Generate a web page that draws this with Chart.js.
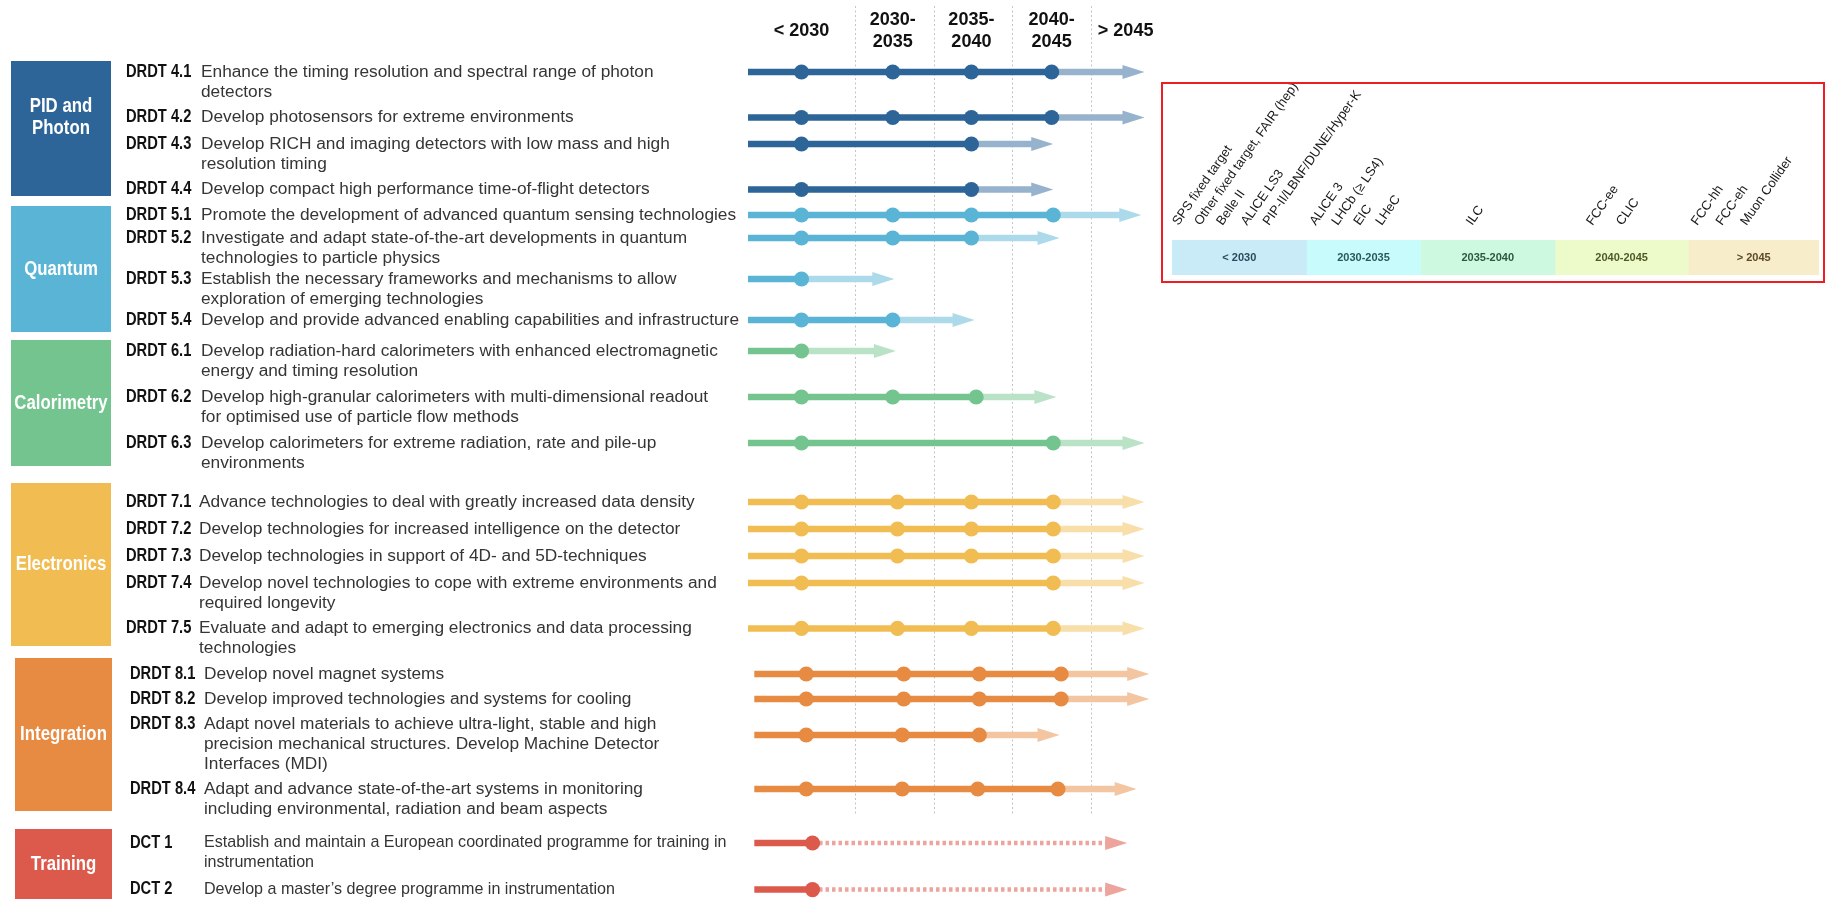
<!DOCTYPE html>
<html>
<head>
<meta charset="utf-8">
<title>DRDT roadmap</title>
<script src="https://cdn.jsdelivr.net/npm/chart.js@4.4.1/dist/chart.umd.min.js"></script>
<style>
  html, body { margin:0; padding:0; background:#ffffff; }
  body { width:1825px; height:899px; position:relative; overflow:hidden; }
  #mainWrap { position:absolute; left:0; top:0; width:1825px; height:899px; }
  #legendFrame { position:absolute; left:1161px; top:82px; width:660px; height:197px; border:2px solid #ee1d23; }
  #legendWrap { position:absolute; left:1163px; top:84px; width:660px; height:197px; }
</style>
</head>
<body>
<div id="mainWrap"><canvas id="main" width="1825" height="899" style="width:1825px;height:899px"></canvas></div>
<div id="legendFrame"></div>
<div id="legendWrap"><canvas id="legend" width="660" height="197" style="width:660px;height:197px"></canvas></div>
<script>
// ---------------- DATA ----------------
const groupNames  = ['PID and\nPhoton', 'Quantum', 'Calorimetry', 'Electronics', 'Integration', 'Training'];
const groupColors = ['#2e6598', '#5ab4d5', '#73c48e', '#f1bc52', '#e78a42', '#dc5a4b'];

const itemGroup = [0,0,0,0, 1,1,1,1, 2,2,2, 3,3,3,3,3, 4,4,4,4, 5,5];
const itemCodes = ['DRDT 4.1','DRDT 4.2','DRDT 4.3','DRDT 4.4',
                   'DRDT 5.1','DRDT 5.2','DRDT 5.3','DRDT 5.4',
                   'DRDT 6.1','DRDT 6.2','DRDT 6.3',
                   'DRDT 7.1','DRDT 7.2','DRDT 7.3','DRDT 7.4','DRDT 7.5',
                   'DRDT 8.1','DRDT 8.2','DRDT 8.3','DRDT 8.4',
                   'DCT 1','DCT 2'];
const itemText = [
  ['Enhance the timing resolution and spectral range of photon', 'detectors'],
  ['Develop photosensors for extreme environments'],
  ['Develop RICH and imaging detectors with low mass and high', 'resolution timing'],
  ['Develop compact high performance time-of-flight detectors'],
  ['Promote the development of advanced quantum sensing technologies'],
  ['Investigate and adapt state-of-the-art developments in quantum', 'technologies to particle physics'],
  ['Establish the necessary frameworks and mechanisms to allow', 'exploration of emerging technologies'],
  ['Develop and provide advanced enabling capabilities and infrastructure'],
  ['Develop radiation-hard calorimeters with enhanced electromagnetic', 'energy and timing resolution'],
  ['Develop high-granular calorimeters with multi-dimensional readout', 'for optimised use of particle flow methods'],
  ['Develop calorimeters for extreme radiation, rate and pile-up', 'environments'],
  ['Advance technologies to deal with greatly increased data density'],
  ['Develop technologies for increased intelligence on the detector'],
  ['Develop technologies in support of 4D- and 5D-techniques'],
  ['Develop novel technologies to cope with extreme environments and', 'required longevity'],
  ['Evaluate and adapt to emerging electronics and data processing', 'technologies'],
  ['Develop novel magnet systems'],
  ['Develop improved technologies and systems for cooling'],
  ['Adapt novel materials to achieve ultra-light, stable and high', 'precision mechanical structures. Develop Machine Detector', 'Interfaces (MDI)'],
  ['Adapt and advance state-of-the-art systems in monitoring', 'including environmental, radiation and beam aspects'],
  ['Establish and maintain a European coordinated programme for training in', 'instrumentation'],
  ['Develop a master\u2019s degree programme in instrumentation']
];

// timeline values (years)
const startYear = [2023.2,2023.2,2023.2,2023.2, 2023.2,2023.2,2023.2,2023.2, 2023.2,2023.2,2023.2,
                   2023.2,2023.2,2023.2,2023.2,2023.2, 2023.6,2023.6,2023.6,2023.6, 2023.6,2023.6];
const milestoneYears = [
  [2026.6, 2032.4, 2037.4, 2042.5],
  [2026.6, 2032.4, 2037.4, 2042.5],
  [2026.6, 2037.4],
  [2026.6, 2037.4],
  [2026.6, 2032.4, 2037.4, 2042.6],
  [2026.6, 2032.4, 2037.4],
  [2026.6],
  [2026.6, 2032.4],
  [2026.6],
  [2026.6, 2032.4, 2037.7],
  [2026.6, 2042.6],
  [2026.6, 2032.7, 2037.4, 2042.6],
  [2026.6, 2032.7, 2037.4, 2042.6],
  [2026.6, 2032.7, 2037.4, 2042.6],
  [2026.6, 2042.6],
  [2026.6, 2032.7, 2037.4, 2042.6],
  [2026.9, 2033.1, 2037.9, 2043.1],
  [2026.9, 2033.1, 2037.9, 2043.1],
  [2026.9, 2033.0, 2037.9],
  [2026.9, 2033.0, 2037.8, 2042.9],
  [2027.3],
  [2027.3]
];
const arrowYear = [2048.4, 2048.4, 2042.6, 2042.6, 2048.2, 2043.0, 2032.5, 2037.6,
                   2032.6, 2042.8, 2048.4, 2048.4, 2048.4, 2048.4, 2048.4, 2048.4,
                   2048.7, 2048.7, 2043.0, 2047.9, 2047.3, 2047.3];
const dottedTail = [false,false,false,false,false,false,false,false,false,false,false,
                    false,false,false,false,false,false,false,false,false,true,true];

const gridYears = [2030, 2035, 2040, 2045];
const columnLabels = [['< 2030'], ['2030-', '2035'], ['2035-', '2040'], ['2040-', '2045'], ['> 2045']];
const columnCenterYears = [2026.6, 2032.4, 2037.4, 2042.5, 2047.2];

// legend (facility timeline)
const periods = ['< 2030', '2030-2035', '2035-2040', '2040-2045', '> 2045'];
const periodSpan = [[0, 1.04], [1.04, 1.92], [1.92, 2.96], [2.96, 3.99], [3.99, 5]];
const periodColors = ['#c9ebf7', '#c8fcfc', '#cdf9e0', '#edfbcb', '#f8edca'];
const periodTextColors = ['#2b4a5c', '#2b5858', '#2b5a40', '#4f5a26', '#5c4a26'];
const experiments = ['SPS fixed target', 'Other fixed target, FAIR (hep)', 'Belle II', 'ALICE LS3',
                     'PIP-II/LBNF/DUNE/Hyper-K', 'ALICE 3', 'LHCb (\u2265 LS4)', 'EIC', 'LHeC', 'ILC',
                     'FCC-ee', 'CLIC', 'FCC-hh', 'FCC-eh', 'Muon Collider'];
const experimentPos = [0.05, 0.22, 0.39, 0.58, 0.75, 1.11, 1.28, 1.45, 1.62, 2.32,
                       3.25, 3.48, 4.06, 4.25, 4.44];

// ---------------- LAYOUT (pixels / styles) ----------------
const W = 1825, H = 899;
const LAYOUT = {
  groupBox: [[11,61,100,135],[11,206,100,126],[11,340,100,126],[11,483,100,163],[15,658,97,153],[15,829,97,70]],
  groupLabelDy: [-11,0,0,0,0,0],
  firstRow: [72, 215, 351, 502, 674, 843],
  lineH: [19, 18, 20, 18.4, 20, 20],
  gap: [7.5, 5, 6, 8.6, 5, 6.6],
  textLineH: 20,
  codeX: [126,126,126,126,130,130],
  descX: [201,201,201,199,204,204],
  descPx: [17.3, 17.3, 17.3, 17.3, 17.3, 16.1],
  anchorLine: {18: 0.55},
  gridTop: 6, gridBottom: 815,
  arrowLen: 22, arrowHalf: 7
};
const DESC_FAMILY = '"Liberation Sans", Arial, Helvetica, sans-serif';
const FONT_CODE  = 'bold 17.5px "Liberation Sans", Arial, sans-serif';
const CODE_SX    = 0.84;
const FONT_GROUP = 'bold 21px "Liberation Sans", Arial, sans-serif';
const GROUP_SX   = 0.8;
const FONT_HEAD  = 'bold 19px "Liberation Sans", Arial, sans-serif';
const HEAD_SX    = 0.95;

function mix(hex, t) {
  const n = parseInt(hex.slice(1), 16);
  const f = c => Math.round(c + (255 - c) * t);
  return 'rgb(' + f(n >> 16 & 255) + ',' + f(n >> 8 & 255) + ',' + f(n & 255) + ')';
}
function scaledText(ctx, text, x, y, sx) {
  ctx.save(); ctx.translate(x, y); ctx.scale(sx, 1); ctx.fillText(text, 0, 0); ctx.restore();
}

// row positions derived from line counts
const rowTextY = [], rowY = [];
(function () {
  let prev = -1, y = 0;
  itemText.forEach((lines, i) => {
    const g = itemGroup[i];
    if (g !== prev) { y = LAYOUT.firstRow[g]; prev = g; }
    rowTextY[i] = y;
    rowY[i] = y + (LAYOUT.anchorLine[i] || 0) * LAYOUT.textLineH;
    y += lines.length * LAYOUT.lineH[g] + LAYOUT.gap[g];
  });
})();

// ---------------- DATASETS ----------------
const datasets = [];
itemCodes.forEach((code, i) => {
  const g = itemGroup[i], col = groupColors[g], y = rowY[i];
  const ms = milestoneYears[i], last = ms[ms.length - 1];
  const dotted = dottedTail[i];
  datasets.push({
    data: ms.map(x => ({x, y})), showLine: false,
    pointRadius: 7.6, pointHoverRadius: 7.6, pointBackgroundColor: col, pointBorderWidth: 0,
    order: 0, clip: false
  });
  datasets.push({
    data: [{x: startYear[i], y}, {x: last, y}], showLine: true,
    borderColor: col, borderWidth: 6.5, pointRadius: 0, pointHoverRadius: 0,
    order: 1, clip: false
  });
  datasets.push({
    data: [{x: last, y}, {x: arrowYear[i], y}], showLine: true,
    borderColor: dotted ? mix(col, 0.45) : mix(col, 0.5),
    borderWidth: dotted ? 4.5 : 6.5, borderDash: dotted ? [3.5, 3] : [],
    pointRadius: 0, pointHoverRadius: 0, order: 2, clip: false, arrowTip: true
  });
});

// ---------------- PLUGINS ----------------
const gridPlugin = {
  id: 'dottedGrid',
  beforeDatasetsDraw(chart) {
    const ctx = chart.ctx, xs = chart.scales.x;
    ctx.save();
    ctx.strokeStyle = '#c4c4c4'; ctx.lineWidth = 1; ctx.setLineDash([2, 2.5]);
    gridYears.forEach(v => {
      const px = Math.round(xs.getPixelForValue(v)) + 0.5;
      ctx.beginPath(); ctx.moveTo(px, LAYOUT.gridTop); ctx.lineTo(px, LAYOUT.gridBottom); ctx.stroke();
    });
    ctx.restore();
  }
};

const arrowPlugin = {
  id: 'arrowTips',
  beforeDatasetDraw(chart, args) {
    const ds = chart.data.datasets[args.index];
    if (!ds.arrowTip) return;
    const pts = args.meta.data, tip = pts[pts.length - 1];
    const ctx = chart.ctx;
    ctx.save();
    ctx.beginPath(); ctx.rect(0, 0, tip.x - LAYOUT.arrowLen + 1, H); ctx.clip();
  },
  afterDatasetDraw(chart, args) {
    const ds = chart.data.datasets[args.index];
    if (!ds.arrowTip) return;
    const ctx = chart.ctx;
    ctx.restore();
    const pts = args.meta.data, tip = pts[pts.length - 1];
    ctx.save();
    ctx.fillStyle = ds.borderColor;
    ctx.beginPath();
    ctx.moveTo(tip.x, tip.y);
    ctx.lineTo(tip.x - LAYOUT.arrowLen, tip.y - LAYOUT.arrowHalf);
    ctx.lineTo(tip.x - LAYOUT.arrowLen, tip.y + LAYOUT.arrowHalf);
    ctx.closePath(); ctx.fill();
    ctx.restore();
  }
};

const textPlugin = {
  id: 'roadmapText',
  afterDraw(chart) {
    const ctx = chart.ctx, xs = chart.scales.x;
    ctx.save();
    // column headers
    ctx.font = FONT_HEAD; ctx.fillStyle = '#111'; ctx.textAlign = 'center'; ctx.textBaseline = 'middle';
    columnLabels.forEach((lines, k) => {
      const cx = xs.getPixelForValue(columnCenterYears[k]);
      const ys = lines.length === 1 ? [31] : [20, 42];
      lines.forEach((t, j) => scaledText(ctx, t, cx, ys[j], HEAD_SX));
    });
    // group boxes
    groupNames.forEach((name, g) => {
      const [x, y, w, h] = LAYOUT.groupBox[g];
      ctx.fillStyle = groupColors[g]; ctx.fillRect(x, y, w, h);
      ctx.fillStyle = '#ffffff'; ctx.font = FONT_GROUP; ctx.textAlign = 'center'; ctx.textBaseline = 'middle';
      const lines = name.split('\n'), lh = 22;
      const cy = y + h / 2 + LAYOUT.groupLabelDy[g];
      lines.forEach((t, j) => scaledText(ctx, t, x + w / 2, cy + (j - (lines.length - 1) / 2) * lh, GROUP_SX));
    });
    // codes and descriptions
    ctx.textAlign = 'left'; ctx.textBaseline = 'middle';
    itemCodes.forEach((code, i) => {
      const g = itemGroup[i], y = rowTextY[i];
      ctx.font = FONT_CODE; ctx.fillStyle = '#111';
      scaledText(ctx, code, LAYOUT.codeX[g], y, CODE_SX);
      ctx.font = LAYOUT.descPx[g] + 'px ' + DESC_FAMILY; ctx.fillStyle = '#353535';
      itemText[i].forEach((t, j) => ctx.fillText(t, LAYOUT.descX[g], y + j * LAYOUT.textLineH));
    });
    ctx.restore();
  }
};

new Chart(document.getElementById('main'), {
  type: 'scatter',
  data: { datasets },
  options: {
    responsive: false, animation: false, devicePixelRatio: 1, events: [],
    layout: { autoPadding: false, padding: { left: 740, right: 665, top: 0, bottom: 0 } },
    plugins: { legend: { display: false }, tooltip: { enabled: false } },
    scales: {
      x: { type: 'linear', min: 2022.691, max: 2049.386, display: false },
      y: { type: 'linear', min: 0, max: H, reverse: true, display: false }
    }
  },
  plugins: [gridPlugin, arrowPlugin, textPlugin]
});

// ---------------- LEGEND CHART ----------------
const legendTextPlugin = {
  id: 'legendText',
  afterDatasetsDraw(chart) {
    const ctx = chart.ctx, xs = chart.scales.x;
    ctx.save();
    ctx.font = 'bold 11px "Liberation Sans", Arial, sans-serif';
    ctx.textAlign = 'center'; ctx.textBaseline = 'middle';
    chart.data.datasets.forEach((ds, k) => {
      const el = chart.getDatasetMeta(k).data[0];
      ctx.fillStyle = periodTextColors[k];
      ctx.fillText(periods[k], (el.x + el.base) / 2, el.y);
    });
    ctx.font = '13px "Liberation Sans", Arial, sans-serif';
    ctx.fillStyle = '#1a1a1a'; ctx.textAlign = 'left'; ctx.textBaseline = 'alphabetic';
    experiments.forEach((t, k) => {
      ctx.save();
      ctx.translate(xs.getPixelForValue(experimentPos[k]), 142);
      ctx.rotate(-55 * Math.PI / 180);
      ctx.fillText(t, 0, 0);
      ctx.restore();
    });
    ctx.restore();
  }
};

new Chart(document.getElementById('legend'), {
  type: 'bar',
  data: {
    labels: ['period'],
    datasets: periods.map((p, k) => ({
      label: p, data: [periodSpan[k]], backgroundColor: periodColors[k],
      borderWidth: 0, grouped: false, barPercentage: 1, categoryPercentage: 1
    }))
  },
  options: {
    indexAxis: 'y', responsive: false, animation: false, devicePixelRatio: 1, events: [],
    layout: { autoPadding: false, padding: { left: 9, right: 4, top: 156, bottom: 6 } },
    plugins: { legend: { display: false }, tooltip: { enabled: false } },
    scales: { x: { type: 'linear', min: 0, max: 5, display: false }, y: { display: false } }
  },
  plugins: [legendTextPlugin]
});
</script>
</body>
</html>
